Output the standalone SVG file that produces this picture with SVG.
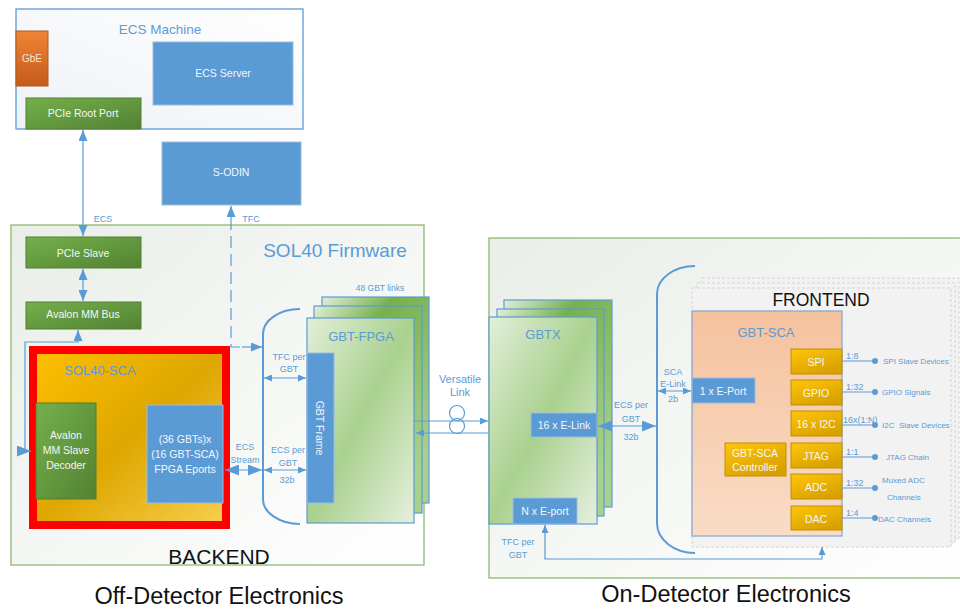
<svg xmlns="http://www.w3.org/2000/svg" width="960" height="613" viewBox="0 0 960 613">
<defs>
<style>
text{font-family:"Liberation Sans",Arial,sans-serif;}
.t{fill:#5b9bd5;text-anchor:middle;}
.w{fill:#f4f6f9;text-anchor:middle;font-size:10.5px;}
.s{fill:#5b9bd5;font-size:8px;}
.k{fill:#111;text-anchor:middle;}
.blue{fill:#5b9bd5;stroke:#9bbbe0;stroke-width:1;}
.green{fill:url(#gGreen);stroke:#507e32;stroke-width:1;}
.gold{fill:url(#gGold);stroke:#bf9000;stroke-width:1;}
.ln{fill:none;stroke:#5b9bd5;stroke-width:1.2;}
.br{fill:none;stroke:#5b9bd5;stroke-width:2;}
.stack{fill:url(#gStack);stroke:#5b9bd5;stroke-width:1.2;}
.fe{fill:#f2f2f2;stroke:#d4d4d4;stroke-width:1;stroke-dasharray:3 2;}
</style>
<linearGradient id="gGreen" x1="0" y1="0" x2="1" y2="1"><stop offset="0" stop-color="#75b04c"/><stop offset="1" stop-color="#538232"/></linearGradient>
<linearGradient id="gGold" x1="0" y1="0" x2="0.6" y2="1"><stop offset="0" stop-color="#ffc60a"/><stop offset="1" stop-color="#d9a100"/></linearGradient>
<linearGradient id="gYellow" x1="0" y1="0" x2="1" y2="1"><stop offset="0" stop-color="#ffc000"/><stop offset="0.5" stop-color="#dea600"/><stop offset="1" stop-color="#f8d050"/></linearGradient>
<linearGradient id="gOrange" x1="0" y1="0" x2="0" y2="1"><stop offset="0" stop-color="#ef8535"/><stop offset="1" stop-color="#c55a1c"/></linearGradient>
<linearGradient id="gStack" x1="0" y1="0" x2="1" y2="1"><stop offset="0" stop-color="#e2efda"/><stop offset="0.5" stop-color="#a9d18e"/><stop offset="1" stop-color="#e6f0df"/></linearGradient>
<linearGradient id="gStackBack" x1="0" y1="0" x2="0.6" y2="1"><stop offset="0" stop-color="#e2efda"/><stop offset="0.3" stop-color="#76b04e"/><stop offset="1" stop-color="#a9d18e"/></linearGradient>
<linearGradient id="gSol" x1="0" y1="0" x2="1" y2="1"><stop offset="0" stop-color="#e9eee8"/><stop offset="1" stop-color="#ffffff"/></linearGradient>
<linearGradient id="gEcs" x1="1" y1="0" x2="0" y2="1"><stop offset="0" stop-color="#ffffff"/><stop offset="1" stop-color="#eef1f6"/></linearGradient>
<linearGradient id="gSalmon" x1="0" y1="0" x2="0" y2="1"><stop offset="0" stop-color="#f5c29e"/><stop offset="1" stop-color="#f9dcc7"/></linearGradient>
<marker id="a" markerUnits="userSpaceOnUse" markerWidth="8" markerHeight="7" refX="8" refY="3.5" orient="auto-start-reverse"><path d="M0,0 L8,3.5 L0,7 z" fill="#5b9bd5"/></marker>
<marker id="am" markerUnits="userSpaceOnUse" markerWidth="11" markerHeight="9" refX="11" refY="4.5" orient="auto-start-reverse"><path d="M0,0 L11,4.5 L0,9 z" fill="#5b9bd5"/></marker>
<marker id="ab" markerUnits="userSpaceOnUse" markerWidth="14" markerHeight="11" refX="14" refY="5.5" orient="auto-start-reverse"><path d="M0,0 L14,5.5 L0,11 z" fill="#5b9bd5"/></marker>
</defs>
<rect width="960" height="613" fill="#ffffff"/>

<!-- ECS Machine -->
<g id="ecs-machine">
<rect x="16" y="9" width="287" height="120" fill="url(#gEcs)" stroke="#5b9bd5" stroke-width="1.3"/>
<text class="t" x="160" y="34" font-size="13.5">ECS Machine</text>
</g>
<g id="gbe">
<rect x="16" y="31" width="32" height="55" fill="url(#gOrange)" stroke="#ae5a21"/>
<text x="32" y="62" fill="#f4e4da" font-size="10" text-anchor="middle">GbE</text>
</g>
<g id="ecs-server">
<rect class="blue" x="153" y="42" width="140" height="63"/>
<text class="w" x="223" y="77" font-size="10">ECS Server</text>
</g>
<g id="pcie-root-port">
<rect class="green" x="26" y="98" width="115" height="31"/>
<text class="w" x="83" y="117">PCIe Root Port</text>
</g>
<g id="s-odin">
<rect class="blue" x="162" y="142" width="139" height="63"/>
<text class="w" x="231" y="176" font-size="10">S-ODIN</text>
</g>

<!-- SOL40 Firmware -->
<g id="sol40-firmware">
<rect x="11" y="225" width="413" height="340" fill="url(#gSol)" stroke="#8fb870" stroke-width="1.3"/>
<text class="t" x="335" y="257" font-size="19">SOL40 Firmware</text>
<text class="k" x="219" y="564" font-size="21">BACKEND</text>
</g>
<g id="pcie-slave">
<rect class="green" x="26" y="237" width="115" height="31"/>
<text class="w" x="83" y="257">PCIe Slave</text>
</g>
<g id="avalon-mm-bus">
<rect class="green" x="26" y="302" width="115" height="27"/>
<text class="w" x="83" y="318">Avalon MM Bus</text>
</g>
<g id="sol40-sca">
<rect x="33" y="350" width="193" height="175" fill="url(#gYellow)" stroke="#ff0000" stroke-width="8"/>
<text class="t" x="100" y="375" font-size="13">SOL40-SCA</text>
</g>
<g id="avalon-decoder">
<rect class="green" x="36" y="403" width="60" height="96"/>
<text class="w" x="66" y="439" font-size="11">Avalon</text>
<text class="w" x="66" y="454" font-size="11">MM Slave</text>
<text class="w" x="66" y="469" font-size="11">Decoder</text>
</g>
<g id="fpga-eports">
<rect class="blue" x="147" y="405" width="76" height="98"/>
<text class="w" x="185" y="443" font-size="10">(36 GBTs)x</text>
<text class="w" x="185" y="458" font-size="10">(16 GBT-SCA)</text>
<text class="w" x="185" y="473" font-size="10">FPGA Eports</text>
</g>
<g id="gbt-fpga">
<rect x="322" y="297" width="107" height="206" fill="url(#gStackBack)" stroke="#5b9bd5" stroke-width="1.2"/>
<rect x="314" y="306" width="108" height="207" fill="url(#gStackBack)" stroke="#5b9bd5" stroke-width="1.2"/>
<rect class="stack" x="307" y="318" width="107" height="205"/>
<text class="t" x="361" y="341" font-size="13">GBT-FPGA</text>
<text class="t" x="380" y="291" font-size="8.5">48 GBT links</text>
</g>
<g id="gbt-frame">
<rect class="blue" x="307" y="353" width="27" height="150"/>
<text class="w" font-size="11.5" transform="translate(316,428) rotate(90)">GBT Frame</text>
</g>

<!-- On-Detector -->
<g id="on-detector">
<rect x="489" y="238" width="475" height="340" fill="url(#gSol)" stroke="#8fb870" stroke-width="1.3"/>
</g>
<g id="gbtx">
<rect x="504" y="300" width="108" height="207" fill="url(#gStackBack)" stroke="#5b9bd5" stroke-width="1.2"/>
<rect x="497" y="309" width="107" height="207" fill="url(#gStackBack)" stroke="#5b9bd5" stroke-width="1.2"/>
<rect class="stack" x="489" y="317" width="108" height="207"/>
<text class="t" x="543" y="339" font-size="13">GBTX</text>
</g>
<g id="e-link">
<rect class="blue" x="531" y="413" width="66" height="24"/>
<text class="w" x="564" y="429">16 x E-Link</text>
</g>
<g id="n-eport">
<rect class="blue" x="513" y="498" width="64" height="26"/>
<text class="w" x="545" y="515">N x E-port</text>
</g>
<g id="frontend">
<rect class="fe" x="702" y="278" width="257" height="261"/>
<rect class="fe" x="697" y="283" width="258" height="260"/>
<rect class="fe" x="692" y="288" width="259" height="259"/>
<text class="k" x="821" y="306" font-size="17.5">FRONTEND</text>
</g>
<g id="gbt-sca">
<rect x="692" y="311" width="150" height="225" fill="url(#gSalmon)" stroke="#7fa6d0" stroke-width="1.2"/>
<text class="t" x="766" y="337" font-size="13">GBT-SCA</text>
</g>
<g id="e-port1">
<rect class="blue" x="692" y="378" width="63" height="25"/>
<text class="w" x="723" y="395">1 x E-Port</text>
</g>
<g id="sca-controller">
<rect class="gold" x="725" y="443" width="61" height="33"/>
<text class="w" x="755" y="457">GBT-SCA</text>
<text class="w" x="755" y="471">Controller</text>
</g>
<g id="spi"><rect class="gold" x="791" y="349" width="51" height="25"/><text class="w" x="816" y="366">SPI</text></g>
<g id="gpio"><rect class="gold" x="791" y="380" width="51" height="25"/><text class="w" x="816" y="397">GPIO</text></g>
<g id="i2c"><rect class="gold" x="791" y="411" width="51" height="25"/><text class="w" x="816" y="428">16 x I2C</text></g>
<g id="jtag"><rect class="gold" x="791" y="443" width="51" height="25"/><text class="w" x="816" y="460">JTAG</text></g>
<g id="adc"><rect class="gold" x="791" y="474" width="51" height="25"/><text class="w" x="816" y="491">ADC</text></g>
<g id="dac"><rect class="gold" x="791" y="506" width="51" height="24"/><text class="w" x="816" y="523">DAC</text></g>

<g id="outputs">
<g class="s">
<text x="883" y="364">SPI Slave Devices</text>
<text x="882" y="395">GPIO Signals</text>
<text x="882" y="428" xml:space="preserve">I2C  Slave Devices</text>
<text x="886" y="460">JTAG Chain</text>
<text x="882" y="483">Muxed ADC</text>
<text x="887" y="500">Channels</text>
<text x="878" y="522">DAC Channels</text>
</g>
</g>

<!-- Connectors -->
<g id="connectors">
<line class="ln" x1="83" y1="130" x2="83" y2="236" stroke-width="2" marker-start="url(#am)" marker-end="url(#am)"/>
<text class="t" x="103" y="222" font-size="9">ECS</text>
<line class="ln" x1="83" y1="269" x2="83" y2="301" stroke-width="2" marker-start="url(#am)" marker-end="url(#am)"/>
<path class="ln" d="M78,330 L78,342 L25,342 L25,451 L31,451" stroke-width="1.6" marker-start="url(#am)" marker-end="url(#ab)"/>
<line class="ln" x1="231" y1="230" x2="231" y2="206" stroke-width="2" marker-end="url(#am)"/>
<text class="t" x="251" y="222" font-size="9">TFC</text>
<path class="ln" d="M231,236 L231,347 L242,347" stroke-width="2" stroke-dasharray="12 6"/>
<line class="ln" x1="242" y1="347" x2="262" y2="347" stroke-width="2" marker-end="url(#am)"/>
<path class="br" d="M300,309 A37,25 0 0 0 263,334 L263,499 A37,25 0 0 0 300,524"/>
<text class="t" x="289" y="360" font-size="9">TFC per</text>
<text class="t" x="289" y="372" font-size="9">GBT</text>
<line class="ln" x1="264" y1="378" x2="306" y2="378" marker-start="url(#a)" marker-end="url(#a)"/>
<text class="t" x="245" y="450" font-size="9">ECS</text>
<text class="t" x="245" y="463" font-size="9">Stream</text>
<line class="ln" x1="225" y1="470" x2="262" y2="470" stroke-width="2.5" marker-start="url(#ab)" marker-end="url(#ab)"/>
<text class="t" x="288" y="453" font-size="9">ECS per</text>
<text class="t" x="288" y="466" font-size="9">GBT</text>
<text class="t" x="287" y="483" font-size="9">32b</text>
<line class="ln" x1="264" y1="470" x2="306" y2="470" marker-start="url(#a)" marker-end="url(#a)"/>
<text class="t" x="460" y="383" font-size="11">Versatile</text>
<text class="t" x="460" y="396" font-size="11">Link</text>
<circle cx="457" cy="413" r="7.5" fill="none" stroke="#5b9bd5" stroke-width="1.2"/>
<circle cx="457" cy="426" r="7.5" fill="none" stroke="#5b9bd5" stroke-width="1.2"/>
<line class="ln" x1="414" y1="421" x2="488" y2="421" marker-end="url(#a)"/>
<line class="ln" x1="488" y1="433" x2="416" y2="433" marker-end="url(#a)"/>
<text class="t" x="631" y="408" font-size="9">ECS per</text>
<text class="t" x="631" y="422" font-size="9">GBT</text>
<text class="t" x="631" y="440" font-size="9">32b</text>
<line class="ln" x1="598" y1="426" x2="656" y2="426" stroke-width="2.5" marker-start="url(#ab)" marker-end="url(#ab)"/>
<path class="br" d="M695,266 A38,28 0 0 0 657,294 L657,523 A38,30 0 0 0 695,553"/>
<text class="t" x="673" y="375" font-size="9">SCA</text>
<text class="t" x="673" y="387" font-size="9">E-Link</text>
<text class="t" x="673" y="402" font-size="9">2b</text>
<line class="ln" x1="658" y1="391" x2="691" y2="391" marker-start="url(#a)" marker-end="url(#a)"/>
<text class="t" x="518" y="545" font-size="9">TFC per</text>
<text class="t" x="518" y="558" font-size="9">GBT</text>
<path class="ln" d="M545,525 L545,559 L822,559 L822,547" marker-start="url(#a)" marker-end="url(#a)"/>
<g class="ln">
<line x1="842" y1="361" x2="875" y2="361"/>
<line x1="842" y1="392" x2="875" y2="392"/>
<line x1="842" y1="425" x2="875" y2="425"/>
<line x1="842" y1="457" x2="875" y2="457"/>
<line x1="842" y1="488" x2="875" y2="488"/>
<line x1="842" y1="518" x2="875" y2="518"/>
</g>
<g fill="#5b9bd5">
<circle cx="875" cy="361" r="3"/>
<circle cx="875" cy="392" r="3"/>
<circle cx="875" cy="425" r="3"/>
<circle cx="875" cy="457" r="3"/>
<circle cx="875" cy="488" r="3"/>
<circle cx="875" cy="518" r="3"/>
</g>
<g class="s" font-size="9">
<text x="846" y="359" font-size="9">1:8</text>
<text x="846" y="390" font-size="9">1:32</text>
<text x="843" y="423" font-size="9">16x(1:N)</text>
<text x="846" y="455" font-size="9">1:1</text>
<text x="846" y="486" font-size="9">1:32</text>
<text x="846" y="516" font-size="9">1:4</text>
</g>
</g>

<text class="k" x="219" y="604" font-size="23.5">Off-Detector Electronics</text>
<text class="k" x="726" y="602" font-size="23.5">On-Detector Electronics</text>
</svg>
